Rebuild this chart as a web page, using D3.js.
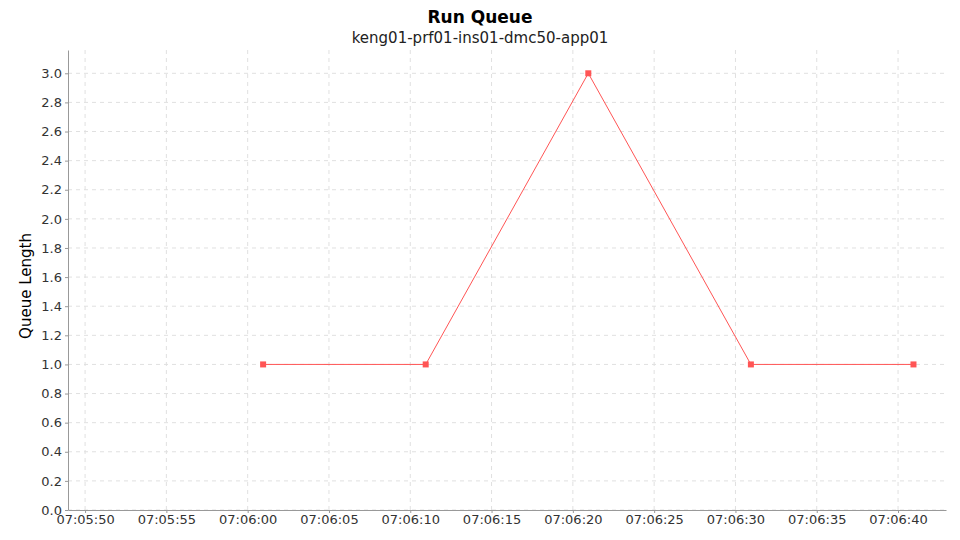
<!DOCTYPE html>
<html><head><meta charset="utf-8">
<script src="https://cdn.jsdelivr.net/npm/d3@7"></script>
<style>body{margin:0;background:#fff;font-family:"DejaVu Sans",sans-serif;}</style>
</head><body><div id="chart"></div>
<script>
var times = ["07:06:00.950","07:06:10.950","07:06:20.950","07:06:30.950","07:06:40.950"];
var values = [1, 1, 3, 1, 1];
var yTicks = [0,0.2,0.4,0.6,0.8,1.0,1.2,1.4,1.6,1.8,2.0,2.2,2.4,2.6,2.8,3.0];
var xTickLabels = ["07:05:50","07:05:55","07:06:00","07:06:05","07:06:10","07:06:15","07:06:20","07:06:25","07:06:30","07:06:35","07:06:40"];

var parse = d3.timeParse("%H:%M:%S.%L"), parseT = d3.timeParse("%H:%M:%S");
var width = 960, height = 540;
var m = {left: 68, right: 14, top: 50, bottom: 30};

var svg = d3.select("#chart").append("svg").attr("width", width).attr("height", height);

var x = d3.scaleTime()
    .domain([parse("07:05:48.950"), parse("07:06:42.950")])
    .range([m.left, width - m.right]);
var y = d3.scaleLinear().domain([0, 3.16]).range([height - m.bottom, m.top]);

var xt = xTickLabels.map(parseT);

// grid
svg.append("g").selectAll("line").data(xt).enter().append("line")
    .attr("x1", d => x(d)).attr("x2", d => x(d))
    .attr("y1", m.top).attr("y2", height - m.bottom)
    .attr("stroke", "#e0e0e0").attr("stroke-dasharray", "4,4");
svg.append("g").selectAll("line").data(yTicks).enter().append("line")
    .attr("x1", m.left).attr("x2", width - m.right)
    .attr("y1", d => y(d)).attr("y2", d => y(d))
    .attr("stroke", "#e0e0e0").attr("stroke-dasharray", "4,4");

var xAxis = svg.append("g").attr("transform", "translate(0," + (height - m.bottom) + ")")
    .call(d3.axisBottom(x).tickValues(xt).tickFormat(d3.timeFormat("%H:%M:%S")).tickSize(3).tickSizeOuter(0));
var yAxis = svg.append("g").attr("transform", "translate(" + m.left + ",0)")
    .call(d3.axisLeft(y).tickValues(yTicks).tickFormat(d3.format(".1f")).tickSize(3).tickSizeOuter(0));
[xAxis, yAxis].forEach(function(a){
    a.selectAll("path,line").attr("stroke", "#999");
    a.selectAll("text").attr("fill", "#333").style("font-size", "13px").style("font-family", "DejaVu Sans");
});
xAxis.selectAll("text").attr("dy", "0.65em");

var pts = times.map((t, i) => [parse(t), values[i]]);
svg.append("path").datum(pts)
    .attr("d", d3.line().x(d => x(d[0])).y(d => y(d[1])))
    .attr("fill", "none").attr("stroke", "#ff5555").attr("stroke-width", 1);
svg.append("g").selectAll("rect").data(pts).enter().append("rect")
    .attr("x", d => x(d[0]) - 3).attr("y", d => y(d[1]) - 3)
    .attr("width", 6).attr("height", 6).attr("fill", "#ff5555");

svg.append("text").attr("x", 480).attr("y", 23).attr("text-anchor", "middle")
    .style("font-weight", "bold").style("font-size", "17px").text("Run Queue");
svg.append("text").attr("x", 480).attr("y", 43).attr("text-anchor", "middle")
    .style("font-size", "15px").attr("fill", "#222").text("keng01-prf01-ins01-dmc50-app01");
svg.append("text").attr("transform", "translate(31,286) rotate(-90)").attr("text-anchor", "middle")
    .style("font-size", "15px").style("font-weight", "500").text("Queue Length");
</script></body></html>
